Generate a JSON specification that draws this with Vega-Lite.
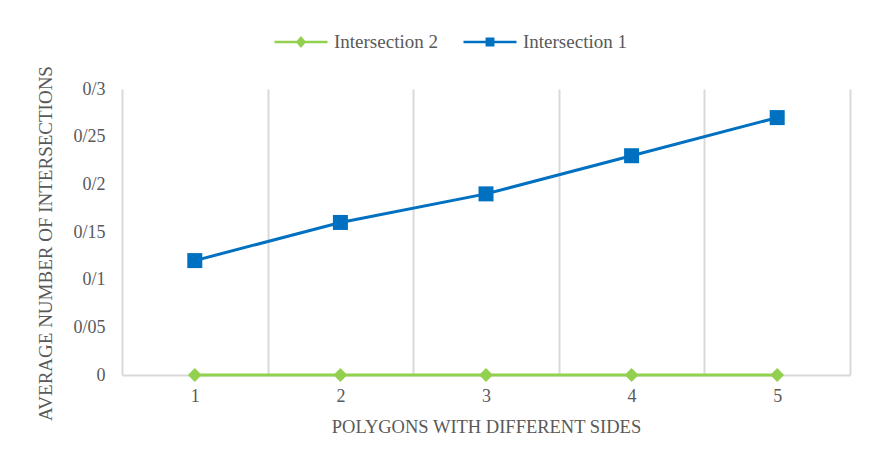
{
  "$schema": "https://vega.github.io/schema/vega-lite/v6.json",
  "width": 728,
  "height": 286,
  "autosize": {"type": "none"},
  "padding": {"left": 122, "top": 89, "right": 19, "bottom": 90},
  "background": "white",
  "config": {
    "view": {"stroke": null},
    "font": "Liberation Serif, Times New Roman, serif",
    "axis": {"labelFont": "Liberation Serif, Times New Roman, serif", "titleFont": "Liberation Serif, Times New Roman, serif", "labelColor": "#595959", "titleColor": "#595959", "labelFontSize": 18, "titleFontSize": 18.5, "titleFontWeight": "normal"},
    "legend": {"labelFont": "Liberation Serif, Times New Roman, serif"}
  },
  "data": {
    "values": [
      {"sides": 1, "series": "Intersection 1", "value": 0.12},
      {"sides": 2, "series": "Intersection 1", "value": 0.16},
      {"sides": 3, "series": "Intersection 1", "value": 0.19},
      {"sides": 4, "series": "Intersection 1", "value": 0.23},
      {"sides": 5, "series": "Intersection 1", "value": 0.27},
      {"sides": 1, "series": "Intersection 2", "value": 0},
      {"sides": 2, "series": "Intersection 2", "value": 0},
      {"sides": 3, "series": "Intersection 2", "value": 0},
      {"sides": 4, "series": "Intersection 2", "value": 0},
      {"sides": 5, "series": "Intersection 2", "value": 0}
    ]
  },
  "encoding": {
    "x": {
      "field": "sides", "type": "quantitative",
      "scale": {"domain": [0.5, 5.5], "nice": false, "zero": false},
      "axis": {
        "title": "POLYGONS WITH DIFFERENT SIDES",
        "values": [0.5, 1, 1.5, 2, 2.5, 3, 3.5, 4, 4.5, 5, 5.5],
        "labelExpr": "datum.value % 1 === 0 ? format(datum.value, 'd') : ''",
        "labelOverlap": false,
        "labelFlush": false,
        "labelBound": false,
        "ticks": false,
        "grid": true,
        "gridColor": {"condition": {"test": "datum.value % 1 === 0", "value": "transparent"}, "value": "#d9d9d9"},
        "gridWidth": 2,
        "domainColor": "#d9d9d9",
        "domainWidth": 2,
        "labelPadding": 12,
        "titlePadding": 12
      }
    },
    "y": {
      "field": "value", "type": "quantitative",
      "scale": {"domain": [0, 0.3], "nice": false},
      "axis": {
        "title": "AVERAGE NUMBER OF INTERSECTIONS",
        "values": [0, 0.05, 0.1, 0.15, 0.2, 0.25, 0.3],
        "labelExpr": "datum.value === 0 ? '0' : replace(format(datum.value, '.2~f'), '.', '/')",
        "grid": false,
        "domain": false,
        "ticks": false,
        "labelPadding": 17,
        "titleFontSize": 19,
        "titleX": -77,
        "titleY": 154,
        "titleAlign": "center",
        "titleBaseline": "middle",
        "titleAngle": -90
      }
    },
    "color": {
      "field": "series", "type": "nominal",
      "scale": {"domain": ["Intersection 2", "Intersection 1"], "range": ["#92D050", "#0070C0"]},
      "legend": {
        "orient": "none",
        "legendX": 151,
        "legendY": -75,
        "direction": "horizontal",
        "title": null,
        "symbolSize": 2809,
        "symbolStrokeWidth": 2.5,
        "labelFontSize": 19,
        "labelColor": "#595959",
        "labelOffset": 5,
        "columnPadding": 20,
        "encode": {
          "symbols": {
            "update": {
              "shape": [
                {"test": "datum.value === 'Intersection 2'", "value": "M-1,0H1M0,-0.15L0.13,0L0,0.15L-0.13,0Z"},
                {"value": "M-1,0H1M-0.12,-0.12H0.12V0.12H-0.12Z"}
              ],
              "size": {"value": 2809},
              "fill": [
                {"test": "datum.value === 'Intersection 2'", "value": "#92D050"},
                {"value": "#0070C0"}
              ],
              "stroke": [
                {"test": "datum.value === 'Intersection 2'", "value": "#92D050"},
                {"value": "#0070C0"}
              ],
              "strokeWidth": {"value": 2.5},
              "opacity": {"value": 1},
              "fillOpacity": {"value": 1}
            }
          }
        }
      }
    }
  },
  "layer": [
    {"mark": {"type": "line", "strokeWidth": 3}},
    {
      "transform": [{"filter": "datum.series === 'Intersection 2'"}],
      "mark": {"type": "point", "filled": true, "opacity": 1, "shape": "diamond", "size": 190}
    },
    {
      "transform": [{"filter": "datum.series === 'Intersection 1'"}],
      "mark": {"type": "point", "filled": true, "opacity": 1, "shape": "square", "size": 225}
    }
  ]
}
